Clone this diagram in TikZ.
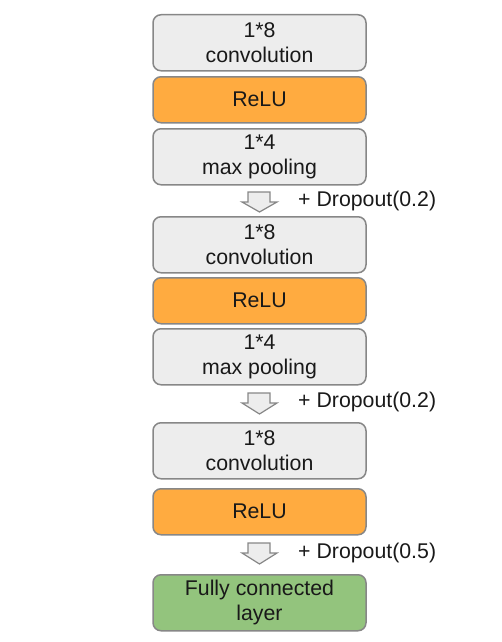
\documentclass[tikz,border=0pt]{standalone}
\usepackage{fontspec}
\setmainfont{Liberation Sans}
\begin{document}
\begin{tikzpicture}[x=1pt,y=-1pt,
  box/.style={draw=black!47, line width=1.5pt, rounded corners=8pt, minimum width=213pt, anchor=north, align=center, inner sep=0pt, font=\fontsize{21.3}{25}\selectfont, text=black!90},
  graybox/.style={box, fill=black!7, minimum height=56pt},
  relubox/.style={box, fill={rgb,255:red,255;green,171;blue,64}, minimum height=46pt},
  fcbox/.style={box, fill={rgb,255:red,147;green,196;blue,125}, minimum height=56pt},
  downarrow/.style={draw=black!47, line width=1.2pt, fill=black!7, line join=miter},
  droptext/.style={anchor=base west, inner sep=0pt, font=\fontsize{21.3}{25}\selectfont, text=black!90}
]
\useasboundingbox (0,0) rectangle (501,642);
\node[graybox] (c1) at (259.5,14) {1*8\\convolution};
\node[relubox] (r1) at (259.5,76) {ReLU};
\node[graybox] (p1) at (259.5,128) {1*4\\max pooling};
\draw[downarrow] (248,192) -- (270,192) -- (270,202) -- (277,202) -- (259.5,212) -- (242,202) -- (248,202) -- cycle;
\node[droptext] (d1) at (298,206) {+ Dropout(0.2)};
\node[graybox] (c2) at (259.5,216) {1*8\\convolution};
\node[relubox] (r2) at (259.5,277) {ReLU};
\node[graybox] (p2) at (259.5,328) {1*4\\max pooling};
\draw[downarrow] (248,393) -- (270,393) -- (270,403) -- (277,403) -- (259.5,414) -- (242,403) -- (248,403) -- cycle;
\node[droptext] (d2) at (298,407) {+ Dropout(0.2)};
\node[graybox] (c3) at (259.5,422) {1*8\\convolution};
\node[relubox] (r3) at (259.5,488) {ReLU};
\draw[downarrow] (248,543) -- (270,543) -- (270,553) -- (277,553) -- (259.5,564) -- (242,553) -- (248,553) -- cycle;
\node[droptext] (d3) at (298,558) {+ Dropout(0.5)};
\node[fcbox] (fc) at (259.5,574) {Fully connected\\layer};
\end{tikzpicture}
\end{document}
